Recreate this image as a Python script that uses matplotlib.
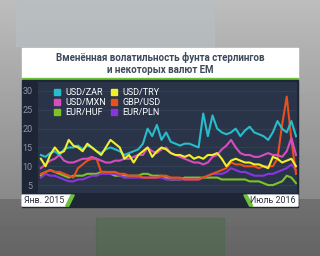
import numpy as np
import pandas as pd
import matplotlib
matplotlib.use("Agg")
import matplotlib.pyplot as plt
from matplotlib.lines import Line2D
from matplotlib.patches import Rectangle, Polygon

plt.rcParams['font.family'] = ['Roboto', 'DejaVu Sans']

dates = pd.date_range('2015-01-02', '2016-07-01', periods=56)

usd_zar = [13, 12.5, 13.5, 14, 13, 14.5, 15, 15, 15.5, 14.5, 15.5, 15, 14, 13.5, 14.5, 15, 14.5, 14, 13, 13.5,
           14, 14.5, 16, 20, 18, 21, 17, 19, 16.5, 16, 15.5, 16, 16, 15.5, 15, 24, 18, 23.5, 20, 19,
           18.5, 19, 20, 18, 19.5, 20.5, 19, 18.5, 18, 17, 19, 22, 20, 19, 22, 18]
usd_try = [12, 10, 13, 15, 13.5, 14, 17, 15.5, 15, 14, 16, 15, 14, 13, 15, 17, 16, 15, 12, 13,
           11, 13, 14, 15, 12.5, 14, 15, 14.5, 13.5, 13, 13, 12.5, 13, 12, 12.5, 12, 13, 13, 13.5, 12,
           10, 11.5, 12, 11.5, 11, 11, 10.5, 10.5, 10, 9.5, 12.5, 12, 11, 11.5, 12, 10]
usd_mxn = [9.5, 10.5, 11.5, 12, 13, 11.5, 11, 11, 11.5, 12, 12, 12.5, 12, 11.5, 11, 11, 11.5, 11.5, 12, 12,
           12.5, 13, 13, 15, 14, 13.5, 14.5, 15, 13.5, 13, 12.5, 12, 11.5, 11, 11, 10.5, 11, 12.5, 13, 14.5,
           15.5, 17, 15, 13.5, 13, 13, 12.5, 12.5, 13, 13.5, 13, 13, 12.5, 14, 17.5, 13]
gbp_usd = [8, 8.5, 9, 8.5, 8.5, 8, 7.5, 7, 9.5, 10.5, 11.5, 12, 12, 8.5, 8.5, 8.5, 8.5, 8, 8, 7.5,
           7.5, 7.5, 7, 7, 7, 7, 7.5, 7.5, 7, 7, 7, 6.5, 6.5, 6.5, 6.5, 7, 7.5, 8, 8.5, 9,
           9.5, 11, 10.5, 10.5, 10, 10, 10, 9.5, 10, 10, 10, 12, 21, 28.5, 17, 8]
eur_huf = [7.5, 8.5, 9, 8.5, 8, 7.5, 7, 7.5, 7.5, 7.5, 8, 8, 8, 8.5, 8.5, 8, 7.5, 7.5, 7.5, 7.5,
           7.5, 7.5, 8, 8, 7.5, 7.5, 7.5, 7, 6.5, 6.5, 6.5, 7, 7, 7, 7, 7, 7, 7, 7, 6.5,
           6.5, 6.5, 6.5, 6.5, 6.5, 6, 6, 6, 5.5, 5, 5, 5.5, 6, 7.5, 7, 5.5]
eur_pln = [7, 8, 7.5, 7.5, 7, 6.5, 6, 6, 6.5, 6.5, 7, 7.5, 7.5, 8, 8, 8, 8, 7.5, 7, 7,
           7, 7, 7, 7, 7, 7, 7, 6.5, 6.5, 6.5, 6.5, 6.5, 6.5, 6.5, 6.5, 7, 7.5, 8, 8, 8,
           8.5, 9.5, 9, 8.5, 8.5, 8, 7.5, 7.5, 7.5, 8, 8, 8.5, 9, 9.5, 10.5, 9]

# draw order: lower lines first
series = [
    ('EUR/HUF', eur_huf, '#7cc424'),
    ('EUR/PLN', eur_pln, '#8a34e0'),
    ('GBP/USD', gbp_usd, '#e8501e'),
    ('USD/MXN', usd_mxn, '#d84cc0'),
    ('USD/ZAR', usd_zar, '#28bccc'),
    ('USD/TRY', usd_try, '#f2f02a'),
]
colors = {name: c for name, _, c in series}
legend_order = ['USD/ZAR', 'USD/MXN', 'EUR/HUF', 'USD/TRY', 'GBP/USD', 'EUR/PLN']

title = 'Вменённая волатильность фунта стерлингов\nи некоторых валют ЕМ'
yticks = [5, 10, 15, 20, 25, 30]

fig = plt.figure(figsize=(3.2, 2.56), dpi=100)

# gray studio background
bg = fig.add_axes([0, 0, 1, 1])
grad = np.linspace(0.74, 0.48, 256)[:, None] * np.ones((1, 320))
grad[int(256 * 0.78):, :] *= 0.82
bg.imshow(grad, cmap='gray', vmin=0, vmax=1, aspect='auto', extent=[0, 1, 0, 1])
bg.add_patch(Rectangle((0.05, 0.82), 0.62, 0.18, color='#b8c0c4', alpha=0.6))
bg.add_patch(Rectangle((0.3, 0.0), 0.4, 0.15, color='#3a6a3a', alpha=0.35))
bg.set_xlim(0, 1)
bg.set_ylim(0, 1)
bg.axis('off')

# title box
bg.add_patch(Rectangle((0.069, 0.695), 0.862, 0.118, color='white'))
bg.add_patch(Rectangle((0.069, 0.687), 0.862, 0.009, color='#6ec23a'))
bg.add_patch(Rectangle((0.069, 0.191), 0.862, 0.496, color='#1e2636'))
bg.text(0.5, 0.752, title, ha='center', va='center', fontsize=7.0, fontweight='bold',
        color='#3c4a5c', linespacing=1.15)

# bottom labels
bg.add_patch(Polygon([(0.069, 0.195), (0.069, 0.238), (0.222, 0.238), (0.205, 0.195)], color='white'))
bg.add_patch(Polygon([(0.205, 0.195), (0.222, 0.238), (0.232, 0.238), (0.215, 0.195)], color='#6ec23a'))
bg.text(0.076, 0.216, 'Янв. 2015', ha='left', va='center', fontsize=6.4, color='#2a3040')
bg.add_patch(Polygon([(0.931, 0.195), (0.931, 0.238), (0.772, 0.238), (0.79, 0.195)], color='white'))
bg.add_patch(Polygon([(0.79, 0.195), (0.772, 0.238), (0.762, 0.238), (0.78, 0.195)], color='#6ec23a'))
bg.text(0.922, 0.216, 'Июль 2016', ha='right', va='center', fontsize=6.4, color='#2a3040')

ax = fig.add_axes([0.119, 0.246, 0.809, 0.434])
ax.set_facecolor('#2a3448')
for name, vals, c in series:
    ax.plot(dates, vals, color=c, lw=1.5, label=name)

ax.set_xlim(dates[0] - pd.Timedelta(days=6), dates[-1] + pd.Timedelta(days=2))
ax.set_ylim(2.9, 32.4)
ax.set_yticks(yticks)
ax.set_xticks([])
ax.tick_params(axis='y', length=0, labelsize=6.5, labelcolor='#8a96a8', pad=4)
ax.grid(axis='y', color='#36425a', lw=0.6)
ax.set_axisbelow(True)
for s in ax.spines.values():
    s.set_visible(False)

handles = [Line2D([], [], marker='s', ls='', color=colors[n], markersize=4) for n in legend_order]
ax.legend(handles, legend_order, ncol=2, loc='upper left', bbox_to_anchor=(0.04, 0.98),
          frameon=False, fontsize=6.5, labelcolor='white', handletextpad=0.3, handlelength=1.2,
          columnspacing=0.3, labelspacing=0.12, borderaxespad=0)

fig.savefig('out.png', dpi=100)
